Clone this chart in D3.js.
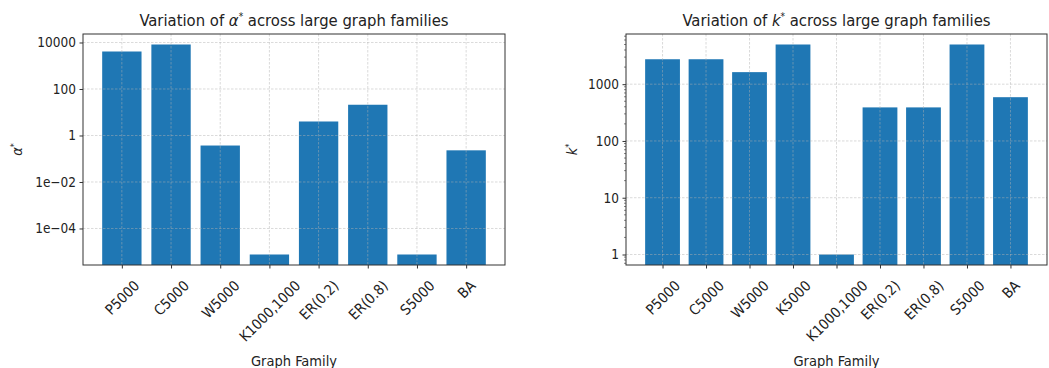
<!DOCTYPE html>
<meta charset="utf-8">
<style>
  body { margin: 0; background: #fff; }
  svg { display: block; }
  text { font-family: 'DejaVu Sans Condensed', 'DejaVu Sans', sans-serif; font-stretch: condensed; fill: #222; }
  .tick text { font-size: 13.5px; }
  .xt .tick text { font-size: 14.5px; }
  .title { font-size: 16.5px; text-anchor: middle; }
  .axlabel { font-size: 14.5px; text-anchor: middle; }
  .grid line { stroke: #b0b0b0; stroke-opacity: 0.6; stroke-dasharray: 2.5,1.5; stroke-width: 0.8; }
</style>
<script src="https://d3js.org/d3.v7.min.js"></script>
<svg width="1049" height="368"></svg>
<script>
// left panel: alpha*
var alphaCats = ["P5000", "C5000", "W5000", "K1000,1000", "ER(0.2)", "ER(0.8)", "S5000", "BA"];
var alphaVals = [4100, 8200, 0.37, 7.6e-6, 4.0, 21, 7.6e-6, 0.23];
var alphaTicks = [1e-4, 1e-2, 1, 100, 10000];

// right panel: k*
var kCats = ["P5000", "C5000", "W5000", "K5000", "K1000,1000", "ER(0.2)", "ER(0.8)", "S5000", "BA"];
var kVals = [2750, 2750, 1630, 5000, 1, 390, 390, 5000, 590];
var kTicks = [1, 10, 100, 1000];

var svg = d3.select("svg");

function fmtAlpha(v) {
  if (v >= 1) return d3.format("d")(v);
  var e = Math.round(Math.log10(v));
  return "1e\u2212" + String(-e).padStart(2, "0");
}

function panel(opt) {
  var x0 = opt.x0, x1 = opt.x1, y0 = 34, y1 = 265;
  var n = opt.cats.length;
  // matplotlib style: 5% margins on data limits
  var xs = d3.scaleLinear().domain([-0.4 - 0.05 * (n - 0.2), n - 0.6 + 0.05 * (n - 0.2)]).range([x0, x1]);
  var lmin = Math.log10(d3.min(opt.vals)), lmax = Math.log10(d3.max(opt.vals));
  var m = 0.05 * (lmax - lmin);
  var ys = d3.scaleLog().domain([Math.pow(10, lmin - m), Math.pow(10, lmax + m)]).range([y1, y0]);

  var g = svg.append("g");

  g.selectAll("rect.bar").data(opt.vals).enter().append("rect")
    .attr("class", "bar")
    .attr("x", function(d, i) { return xs(i - 0.4); })
    .attr("width", function() { return xs(0.8) - xs(0); })
    .attr("y", function(d) { return ys(d); })
    .attr("height", function(d) { return y1 - ys(d); })
    .attr("fill", "#1f77b4");

  // grid over bars
  var grid = g.append("g").attr("class", "grid");
  grid.selectAll("line.v").data(d3.range(n)).enter().append("line")
    .attr("x1", function(i) { return xs(i); }).attr("x2", function(i) { return xs(i); })
    .attr("y1", y0).attr("y2", y1);
  grid.selectAll("line.h").data(opt.ticks).enter().append("line")
    .attr("x1", x0).attr("x2", x1)
    .attr("y1", function(d) { return ys(d); }).attr("y2", function(d) { return ys(d); });

  g.append("rect").attr("x", x0).attr("y", y0).attr("width", x1 - x0).attr("height", y1 - y0)
    .attr("fill", "none").attr("stroke", "#333").attr("stroke-width", 1);

  // y axis
  var yAxis = d3.axisLeft(ys).tickValues(opt.ticks).tickFormat(opt.fmt).tickSize(3.5).tickPadding(3.5);
  var ya = g.append("g").attr("transform", "translate(" + x0 + ",0)").call(yAxis);
  ya.select(".domain").remove();
  ya.selectAll(".tick line").attr("stroke", "#333");
  if (opt.minor) {
    var minors = [];
    var d = ys.domain();
    for (var e = Math.floor(Math.log10(d[0])); e <= Math.ceil(Math.log10(d[1])); e++)
      for (var k = 2; k < 10; k++) {
        var v = k * Math.pow(10, e);
        if (v >= d[0] && v <= d[1]) minors.push(v);
      }
    g.selectAll("line.minor").data(minors).enter().append("line")
      .attr("x1", x0 - 2).attr("x2", x0)
      .attr("y1", function(v) { return ys(v); }).attr("y2", function(v) { return ys(v); })
      .attr("stroke", "#333").attr("stroke-width", 0.6);
  }

  // x axis
  var xAxis = d3.axisBottom(xs).tickValues(d3.range(n)).tickFormat(function(i) { return opt.cats[i]; })
    .tickSize(3.5);
  var xa = g.append("g").attr("class", "xt").attr("transform", "translate(0," + y1 + ")").call(xAxis);
  xa.select(".domain").remove();
  xa.selectAll(".tick line").attr("stroke", "#333");
  xa.selectAll(".tick text").each(function() {
    var t = d3.select(this);
    var w = this.getComputedTextLength(), h = 14.5;
    var half = (w + h) / (2 * Math.SQRT2);
    t.attr("y", null).attr("dy", null)
      .attr("text-anchor", "middle").attr("dominant-baseline", "central")
      .attr("transform", "translate(0," + (13 + half) + ") rotate(-45)");
  });

  var cx = (x0 + x1) / 2;
  var title = g.append("text").attr("class", "title").attr("x", cx).attr("y", 25.5);
  title.append("tspan").text("Variation of ");
  title.append("tspan").attr("font-style", "italic").text(opt.sym);
  title.append("tspan").attr("dy", -6).attr("font-size", "10px").text("*");
  title.append("tspan").attr("dy", 6).text(" across large graph families");

  g.append("text").attr("class", "axlabel").attr("x", cx).attr("y", 366).text("Graph Family");

  var yl = g.append("text").attr("class", "axlabel")
    .attr("transform", "translate(" + opt.ylx + "," + ((y0 + y1) / 2) + ") rotate(-90)");
  yl.append("tspan").attr("font-style", "italic").text(opt.sym);
  yl.append("tspan").attr("dy", -5).attr("font-size", "9px").text("*");
}

panel({ x0: 83, x1: 505, cats: alphaCats, vals: alphaVals, ticks: alphaTicks, fmt: fmtAlpha, sym: "\u03b1", ylx: 22, minor: false });
panel({ x0: 626, x1: 1047, cats: kCats, vals: kVals, ticks: kTicks, fmt: d3.format("d"), sym: "k", ylx: 577, minor: true });
</script>
